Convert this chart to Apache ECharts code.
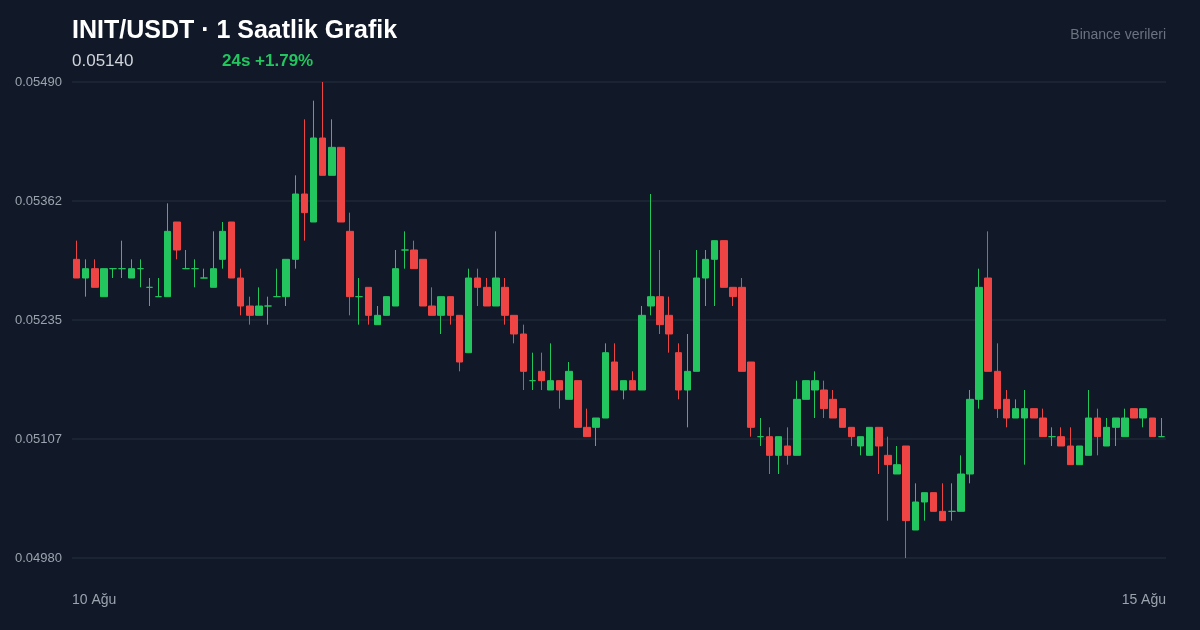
<!DOCTYPE html>
<html>
<head>
<meta charset="utf-8">
<script src="https://cdn.jsdelivr.net/npm/echarts@6/dist/echarts.min.js"></script>
<style>
  html, body { margin: 0; padding: 0; background: #111827; }
  #chart { width: 1200px; height: 630px; }
</style>
</head>
<body>
<div id="chart"></div>
<script>
var openPrices = [
  0.0530,0.0528,0.0529,0.0526,0.0529,0.0529,0.0528,0.0529,0.0527,0.0526,
  0.0526,0.0534,0.0529,0.0529,0.0528,0.0527,0.0530,0.0534,0.0528,0.0525,
  0.0524,0.0525,0.0526,0.0526,0.0530,0.0537,0.0534,0.0543,0.0539,0.0542,
  0.0533,0.0526,0.0527,0.0523,0.0524,0.0525,0.0531,0.0531,0.0530,0.0525,
  0.0524,0.0526,0.0524,0.0520,0.0528,0.0527,0.0525,0.0527,0.0524,0.0522,
  0.0517,0.0518,0.0516,0.0517,0.0515,0.0517,0.0512,0.0512,0.0513,0.0519,
  0.0516,0.0517,0.0516,0.0525,0.0526,0.0524,0.0520,0.0516,0.0518,0.0528,
  0.0530,0.0532,0.0527,0.0527,0.0519,0.0511,0.0511,0.0509,0.0510,0.0509,
  0.0515,0.0516,0.0516,0.0515,0.0514,0.0512,0.0510,0.0509,0.0512,0.0509,
  0.0507,0.0510,0.0501,0.0504,0.0505,0.0503,0.0503,0.0503,0.0507,0.0515,
  0.0528,0.0518,0.0515,0.0513,0.0513,0.0514,0.0513,0.0511,0.0511,0.0510,
  0.0508,0.0509,0.0513,0.0510,0.0512,0.0511,0.0514,0.0513,0.0513,0.0511
];
var closePrices = [
  0.0528,0.0529,0.0527,0.0529,0.0529,0.0529,0.0529,0.0529,0.0527,0.0526,
  0.0533,0.0531,0.0529,0.0529,0.0528,0.0529,0.0533,0.0528,0.0525,0.0524,
  0.0525,0.0525,0.0526,0.0530,0.0537,0.0535,0.0543,0.0539,0.0542,0.0534,
  0.0526,0.0526,0.0524,0.0524,0.0526,0.0529,0.0531,0.0529,0.0525,0.0524,
  0.0526,0.0524,0.0519,0.0528,0.0527,0.0525,0.0528,0.0524,0.0522,0.0518,
  0.0517,0.0517,0.0517,0.0516,0.0518,0.0512,0.0511,0.0513,0.0520,0.0516,
  0.0517,0.0516,0.0524,0.0526,0.0523,0.0522,0.0516,0.0518,0.0528,0.0530,
  0.0532,0.0527,0.0526,0.0518,0.0512,0.0511,0.0509,0.0511,0.0509,0.0515,
  0.0517,0.0517,0.0514,0.0513,0.0512,0.0511,0.0511,0.0512,0.0510,0.0508,
  0.0508,0.0502,0.0504,0.0505,0.0503,0.0502,0.0503,0.0507,0.0515,0.0527,
  0.0518,0.0514,0.0513,0.0514,0.0514,0.0513,0.0511,0.0511,0.0510,0.0508,
  0.0510,0.0513,0.0511,0.0512,0.0513,0.0513,0.0513,0.0514,0.0511,0.0511
];
var lowPrices = [
  0.0528,0.0526,0.0527,0.0526,0.0528,0.0528,0.0528,0.0527,0.0525,0.0526,
  0.0526,0.0530,0.0529,0.0527,0.0528,0.0527,0.0529,0.0528,0.0524,0.0523,
  0.0524,0.0523,0.0526,0.0525,0.0529,0.0532,0.0534,0.0539,0.0539,0.0534,
  0.0524,0.0523,0.0523,0.0523,0.0524,0.0525,0.0529,0.0529,0.0525,0.0524,
  0.0522,0.0523,0.0518,0.0520,0.0525,0.0525,0.0525,0.0523,0.0521,0.0516,
  0.0516,0.0516,0.0516,0.0514,0.0515,0.0512,0.0511,0.0510,0.0513,0.0516,
  0.0515,0.0516,0.0516,0.0524,0.0522,0.0520,0.0515,0.0512,0.0518,0.0525,
  0.0525,0.0527,0.0525,0.0518,0.0511,0.0510,0.0507,0.0507,0.0508,0.0509,
  0.0515,0.0513,0.0513,0.0513,0.0512,0.0510,0.0509,0.0509,0.0507,0.0502,
  0.0507,0.0498,0.0501,0.0502,0.0503,0.0502,0.0502,0.0503,0.0506,0.0514,
  0.0518,0.0513,0.0512,0.0513,0.0508,0.0513,0.0511,0.0510,0.0510,0.0508,
  0.0508,0.0509,0.0509,0.0510,0.0510,0.0511,0.0513,0.0512,0.0511,0.0511
];
var highPrices = [
  0.0532,0.0530,0.0530,0.0529,0.0529,0.0532,0.0530,0.0530,0.0528,0.0528,
  0.0536,0.0534,0.0531,0.0530,0.0529,0.0533,0.0534,0.0534,0.0529,0.0526,
  0.0527,0.0526,0.0529,0.0530,0.0539,0.0545,0.0547,0.0549,0.0545,0.0542,
  0.0535,0.0528,0.0527,0.0525,0.0526,0.0531,0.0533,0.0532,0.0530,0.0527,
  0.0526,0.0526,0.0524,0.0529,0.0529,0.0528,0.0533,0.0528,0.0524,0.0523,
  0.0520,0.0520,0.0521,0.0517,0.0519,0.0517,0.0514,0.0513,0.0521,0.0521,
  0.0517,0.0518,0.0525,0.0537,0.0531,0.0526,0.0521,0.0522,0.0531,0.0531,
  0.0532,0.0532,0.0527,0.0528,0.0519,0.0513,0.0512,0.0511,0.0512,0.0517,
  0.0517,0.0518,0.0517,0.0516,0.0514,0.0512,0.0511,0.0512,0.0512,0.0511,
  0.0510,0.0510,0.0506,0.0505,0.0505,0.0506,0.0506,0.0509,0.0516,0.0529,
  0.0533,0.0521,0.0516,0.0515,0.0516,0.0514,0.0514,0.0512,0.0512,0.0512,
  0.0510,0.0516,0.0514,0.0513,0.0513,0.0514,0.0514,0.0514,0.0513,0.0513
];
var dayLabels = ['10 Ağu', '15 Ağu'];

var UP = '#22c55e';
var DOWN = '#ef4444';

var categories = [];
var candles = [];
for (var i = 0; i < openPrices.length; i++) {
  categories.push(String(i));
  var item = { value: [openPrices[i], closePrices[i], lowPrices[i], highPrices[i]] };
  if (openPrices[i] === closePrices[i]) {
    item.itemStyle = { color: UP, color0: UP, borderColor: UP, borderColor0: UP };
  }
  candles.push(item);
}

var FONT = 'Liberation Sans, Arial';
var chart = echarts.init(document.getElementById('chart'));
chart.setOption({
  backgroundColor: '#111827',
  animation: false,
  title: [
    { text: 'INIT/USDT · 1 Saatlik Grafik', left: 67, top: 14,
      textStyle: { color: '#ffffff', fontSize: 25, fontWeight: 'bold', fontFamily: FONT } },
    { text: '0.05140', left: 67, top: 48,
      textStyle: { color: '#d1d5db', fontSize: 17, fontWeight: 'normal', fontFamily: FONT } },
    { text: '24s +1.79%', left: 217, top: 48,
      textStyle: { color: UP, fontSize: 17, fontWeight: 'bold', fontFamily: FONT } },
    { text: 'Binance verileri', right: 29, top: 23,
      textStyle: { color: '#6b7280', fontSize: 14, fontWeight: 'normal', fontFamily: FONT } },
    { text: dayLabels[0], left: 67, top: 588,
      textStyle: { color: '#9ca3af', fontSize: 14, fontWeight: 'normal', fontFamily: FONT } },
    { text: dayLabels[1], right: 29, top: 588,
      textStyle: { color: '#9ca3af', fontSize: 14, fontWeight: 'normal', fontFamily: FONT } }
  ],
  grid: { left: 72, right: 34, top: 82, bottom: 72 },
  xAxis: {
    type: 'category',
    data: categories,
    boundaryGap: true,
    axisLine: { show: false },
    axisTick: { show: false },
    splitLine: { show: false },
    axisLabel: { show: false }
  },
  yAxis: {
    type: 'value',
    min: 0.0498,
    max: 0.0549,
    interval: 0.001275,
    axisLine: { show: false },
    axisTick: { show: false },
    splitLine: { lineStyle: { color: '#1f2937', width: 1.5 } },
    axisLabel: {
      color: '#9ca3af',
      fontSize: 13,
      margin: 10,
      fontFamily: FONT,
      formatter: function (v) { return (Math.floor(v * 1e5 + 1e-6) / 1e5).toFixed(5); }
    }
  },
  series: [{
    type: 'candlestick',
    data: candles,
    barWidth: 7,
    itemStyle: {
      color: UP,
      color0: DOWN,
      borderColor: UP,
      borderColor0: DOWN,
      borderWidth: 1
    }
  }]
});
</script>
</body>
</html>
